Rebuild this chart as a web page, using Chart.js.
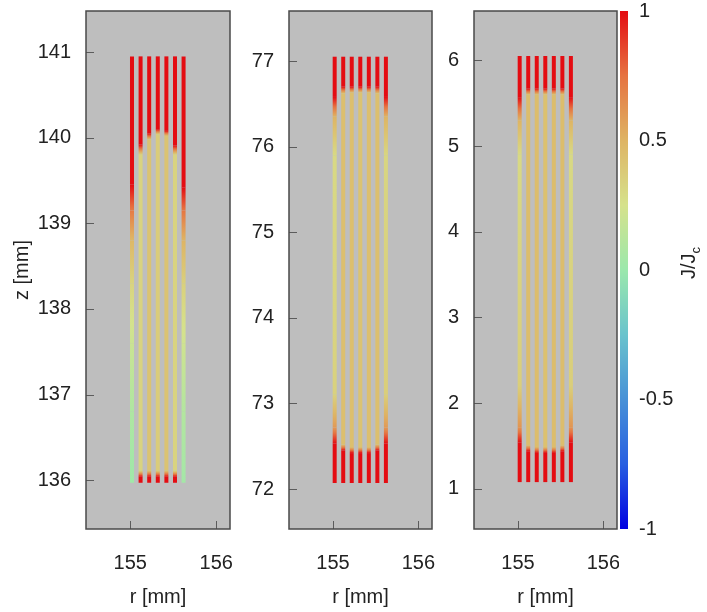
<!DOCTYPE html>
<html>
<head>
<meta charset="utf-8">
<title>J/Jc in the coil tapes</title>
<script src="https://cdn.jsdelivr.net/npm/chart.js@4.4.1/dist/chart.umd.min.js"></script>
<style>
    body { margin: 0; background: #ffffff; }
    .wrap { position: relative; width: 707px; height: 612px; overflow: hidden; }
    canvas { position: absolute; top: 0; }
</style>
</head>
<body>
<div class="wrap">
    <canvas id="panelTop" width="235" height="612" style="left:0px"></canvas>
    <canvas id="panelMid" width="202" height="612" style="left:235px"></canvas>
    <canvas id="panelBot" width="182" height="612" style="left:437px"></canvas>
    <canvas id="colorBar" width="88" height="612" style="left:619px"></canvas>
</div>
<script>
// radial position of the 7 tapes (mm), same in every panel
const tapeR = [155.02, 155.12, 155.22, 155.32, 155.42, 155.52, 155.62];

// axis limits and tick labels
const rRange = [154.485, 156.16];
const rTicks = [155, 156];
const zRangeTop = [135.43, 141.48];
const zTicksTop = [136, 137, 138, 139, 140, 141];
const zRangeMid = [71.533, 77.584];
const zTicksMid = [72, 73, 74, 75, 76, 77];
const zRangeBot = [0.533, 6.575];
const zTicksBot = [1, 2, 3, 4, 5, 6];
const cbarTicks = [-1, -0.5, 0, 0.5, 1];

// J/Jc along each tape: [z, J/Jc] knots from bottom to top
const profileTop = [
    [[135.97, 0.02], [136.8, 0.08], [137.6, 0.2], [138.3, 0.33], [138.8, 0.48], [139.15, 0.72], [139.45, 1], [140.95, 1]],
    [[135.97, 1], [136.04, 1], [136.11, 0.33], [139.8, 0.33], [139.92, 1], [140.95, 1]],
    [[135.97, 1], [136.04, 1], [136.11, 0.42], [139.98, 0.42], [140.05, 1], [140.95, 1]],
    [[135.97, 1], [136.04, 1], [136.11, 0.37], [140.04, 0.37], [140.1, 1], [140.95, 1]],
    [[135.97, 1], [136.04, 1], [136.11, 0.42], [140.02, 0.42], [140.08, 1], [140.95, 1]],
    [[135.97, 1], [136.04, 1], [136.11, 0.33], [139.8, 0.33], [139.91, 1], [140.95, 1]],
    [[135.97, 0.04], [136.8, 0.1], [137.6, 0.22], [138.3, 0.35], [138.8, 0.5], [139.15, 0.74], [139.42, 1], [140.95, 1]]
];
const profileMid = [
    [[72.07, 1], [72.53, 1], [72.72, 0.6], [73.1, 0.34], [75.9, 0.3], [76.35, 0.5], [76.58, 1], [77.05, 1]],
    [[72.07, 1], [72.45, 1], [72.52, 0.44], [76.62, 0.44], [76.7, 1], [77.05, 1]],
    [[72.07, 1], [72.42, 1], [72.49, 0.44], [76.63, 0.44], [76.7, 1], [77.05, 1]],
    [[72.07, 1], [72.42, 1], [72.49, 0.42], [76.63, 0.42], [76.7, 1], [77.05, 1]],
    [[72.07, 1], [72.42, 1], [72.49, 0.44], [76.63, 0.44], [76.7, 1], [77.05, 1]],
    [[72.07, 1], [72.45, 1], [72.52, 0.44], [76.62, 0.44], [76.7, 1], [77.05, 1]],
    [[72.07, 1], [72.53, 1], [72.72, 0.6], [73.1, 0.36], [75.9, 0.32], [76.35, 0.5], [76.58, 1], [77.05, 1]]
];
const profileBot = [
    [[1.08, 1], [1.54, 1], [1.72, 0.62], [2.2, 0.36], [4.9, 0.3], [5.3, 0.5], [5.57, 1], [6.05, 1]],
    [[1.08, 1], [1.44, 1], [1.51, 0.45], [5.6, 0.45], [5.67, 1], [6.05, 1]],
    [[1.08, 1], [1.42, 1], [1.49, 0.45], [5.6, 0.45], [5.67, 1], [6.05, 1]],
    [[1.08, 1], [1.42, 1], [1.49, 0.43], [5.6, 0.43], [5.67, 1], [6.05, 1]],
    [[1.08, 1], [1.42, 1], [1.49, 0.45], [5.6, 0.45], [5.67, 1], [6.05, 1]],
    [[1.08, 1], [1.44, 1], [1.51, 0.45], [5.6, 0.45], [5.67, 1], [6.05, 1]],
    [[1.08, 1], [1.54, 1], [1.72, 0.62], [2.2, 0.36], [4.9, 0.3], [5.3, 0.5], [5.57, 1], [6.05, 1]]
];

// colour map of the J/Jc bar
const cmapStops = [
    [-1, [0, 0, 225]],
    [-0.75, [40, 95, 225]],
    [-0.5, [72, 145, 215]],
    [-0.25, [105, 195, 205]],
    [0, [155, 232, 172]],
    [0.25, [214, 226, 140]],
    [0.5, [222, 180, 100]],
    [0.75, [230, 115, 65]],
    [1, [228, 12, 18]]
];

const FONT = { family: "'Liberation Sans', Arial, sans-serif", size: 20 };
const TEXT = '#222222';

document.addEventListener('DOMContentLoaded', function () {
    Chart.defaults.font.family = FONT.family;
    makePanel('panelTop', profileTop, zRangeTop, zTicksTop, 86, 5, true);
    makePanel('panelMid', profileMid, zRangeMid, zTicksMid, 54, 5, false);
    makePanel('panelBot', profileBot, zRangeBot, zTicksBot, 37, 2, false);
    makeColorBar();
});

function colorFor(j) {
    let rgb = cmapStops[cmapStops.length - 1][1];
    for (let i = 1; i < cmapStops.length; i++) {
        const [v0, c0] = cmapStops[i - 1];
        const [v1, c1] = cmapStops[i];
        if (j <= v1) {
            const t = Math.max(0, (j - v0) / (v1 - v0));
            rgb = c0.map((c, k) => Math.round(c + (c1[k] - c) * t));
            break;
        }
    }
    return 'rgb(' + rgb.join(',') + ')';
}

function segmentColor(ctx, knots) {
    const j0 = knots[ctx.p0DataIndex][1];
    const j1 = knots[ctx.p1DataIndex][1];
    if (j0 === j1) return colorFor(j0);
    const g = ctx.chart.ctx.createLinearGradient(0, ctx.p0.y, 0, ctx.p1.y);
    for (let s = 0; s <= 6; s++) {
        g.addColorStop(s / 6, colorFor(j0 + (j1 - j0) * s / 6));
    }
    return g;
}

// fixed axis size, no extra room for overflowing labels
function fixSize(s, size) {
    if (s.isHorizontal()) s.height = size; else s.width = size;
    s.paddingTop = 0;
    s.paddingBottom = 0;
    s.paddingLeft = 0;
    s.paddingRight = 0;
}

// grey plot area, frame and inward tick marks
const panelFrame = {
    id: 'panelFrame',
    beforeDraw(chart) {
        const { ctx, chartArea: a } = chart;
        ctx.save();
        ctx.fillStyle = '#bebebe';
        ctx.fillRect(a.left, a.top, a.right - a.left, a.bottom - a.top);
        ctx.restore();
    },
    afterDraw(chart) {
        const { ctx, chartArea: a, scales } = chart;
        ctx.save();
        ctx.strokeStyle = '#5c5c5c';
        ctx.lineWidth = 1;
        ctx.beginPath();
        scales.y.ticks.forEach(t => {
            const py = Math.round(scales.y.getPixelForValue(t.value)) + 0.5;
            ctx.moveTo(a.left, py);
            ctx.lineTo(a.left + 8, py);
        });
        scales.x.ticks.forEach(t => {
            const px = Math.round(scales.x.getPixelForValue(t.value)) + 0.5;
            ctx.moveTo(px, a.bottom);
            ctx.lineTo(px, a.bottom - 8);
        });
        ctx.stroke();
        ctx.strokeStyle = '#4a4a4a';
        ctx.lineWidth = 1.5;
        ctx.strokeRect(a.left, a.top, a.right - a.left, a.bottom - a.top);
        ctx.restore();
    }
};

function makePanel(id, profiles, zRange, zTicks, yWidth, padRight, showZTitle) {
    const datasets = profiles.map((knots, i) => ({
        data: knots.map(([z, j]) => ({ x: tapeR[i], y: z })),
        showLine: true,
        borderWidth: 4,
        pointRadius: 0,
        borderColor: colorFor(knots[0][1]),
        segment: {
            borderColor: ctx => segmentColor(ctx, knots)
        }
    }));

    new Chart(document.getElementById(id), {
        type: 'scatter',
        data: { datasets: datasets },
        options: {
            responsive: false,
            animation: false,
            devicePixelRatio: 1,
            layout: { padding: { left: 0, right: padRight, top: 11, bottom: 0 } },
            plugins: { legend: { display: false }, tooltip: { enabled: false } },
            scales: {
                x: {
                    type: 'linear',
                    min: rRange[0],
                    max: rRange[1],
                    afterBuildTicks: s => { s.ticks = rTicks.map(v => ({ value: v })); },
                    afterFit: s => fixSize(s, 83),
                    grid: { display: false, drawTicks: false },
                    border: { display: false },
                    ticks: { padding: 22, color: TEXT, font: FONT, callback: v => String(v) },
                    title: { display: true, text: 'r [mm]', color: TEXT, font: FONT, padding: { top: 0, bottom: 3 } }
                },
                y: {
                    type: 'linear',
                    min: zRange[0],
                    max: zRange[1],
                    afterBuildTicks: s => { s.ticks = zTicks.map(v => ({ value: v })); },
                    afterFit: s => fixSize(s, yWidth),
                    grid: { display: false, drawTicks: false },
                    border: { display: false },
                    ticks: { padding: 15, color: TEXT, font: FONT, callback: v => String(v) },
                    title: { display: showZTitle, text: 'z [mm]', color: TEXT, font: FONT, padding: { top: 10, bottom: 0 } }
                }
            }
        },
        plugins: [panelFrame]
    });
}

// rotated J/Jc label next to the colour bar
const colorBarTitle = {
    id: 'colorBarTitle',
    afterDraw(chart) {
        const ctx = chart.ctx;
        ctx.save();
        ctx.translate(76, 263);
        ctx.rotate(-Math.PI / 2);
        ctx.fillStyle = TEXT;
        ctx.textBaseline = 'alphabetic';
        ctx.font = FONT.size + 'px ' + FONT.family;
        const w = ctx.measureText('J/J').width;
        ctx.font = '13px ' + FONT.family;
        const wc = ctx.measureText('c').width;
        const x0 = -(w + wc) / 2;
        ctx.font = FONT.size + 'px ' + FONT.family;
        ctx.fillText('J/J', x0, 0);
        ctx.font = '13px ' + FONT.family;
        ctx.fillText('c', x0 + w, 5);
        ctx.restore();
    }
};

function barGradient(c) {
    const chart = c.chart;
    if (!chart.chartArea) return null;
    const ys = chart.scales.y;
    const g = chart.ctx.createLinearGradient(0, ys.getPixelForValue(-1), 0, ys.getPixelForValue(1));
    cmapStops.forEach(([v, rgb]) => g.addColorStop((v + 1) / 2, 'rgb(' + rgb.join(',') + ')'));
    return g;
}

function makeColorBar() {
    new Chart(document.getElementById('colorBar'), {
        type: 'bar',
        data: {
            labels: ['J/Jc'],
            datasets: [{
                data: [[-1, 1]],
                backgroundColor: barGradient,
                borderWidth: 0,
                barPercentage: 1,
                categoryPercentage: 1
            }]
        },
        options: {
            responsive: false,
            animation: false,
            devicePixelRatio: 1,
            layout: { padding: { left: 1, right: 0, top: 11, bottom: 83 } },
            plugins: { legend: { display: false }, tooltip: { enabled: false } },
            scales: {
                x: { display: false },
                y: {
                    position: 'right',
                    min: -1,
                    max: 1,
                    z: 1,
                    afterBuildTicks: s => { s.ticks = cbarTicks.map(v => ({ value: v })); },
                    afterFit: s => fixSize(s, 79),
                    grid: {
                        drawTicks: false,
                        lineWidth: 1,
                        color: c => (c.tick && Math.abs(c.tick.value) === 1 ? 'rgba(0,0,0,0)' : '#5b3a1e')
                    },
                    border: { display: false },
                    ticks: { padding: 11, color: TEXT, font: FONT, callback: v => String(v) }
                }
            }
        },
        plugins: [colorBarTitle]
    });
}
</script>
</body>
</html>
